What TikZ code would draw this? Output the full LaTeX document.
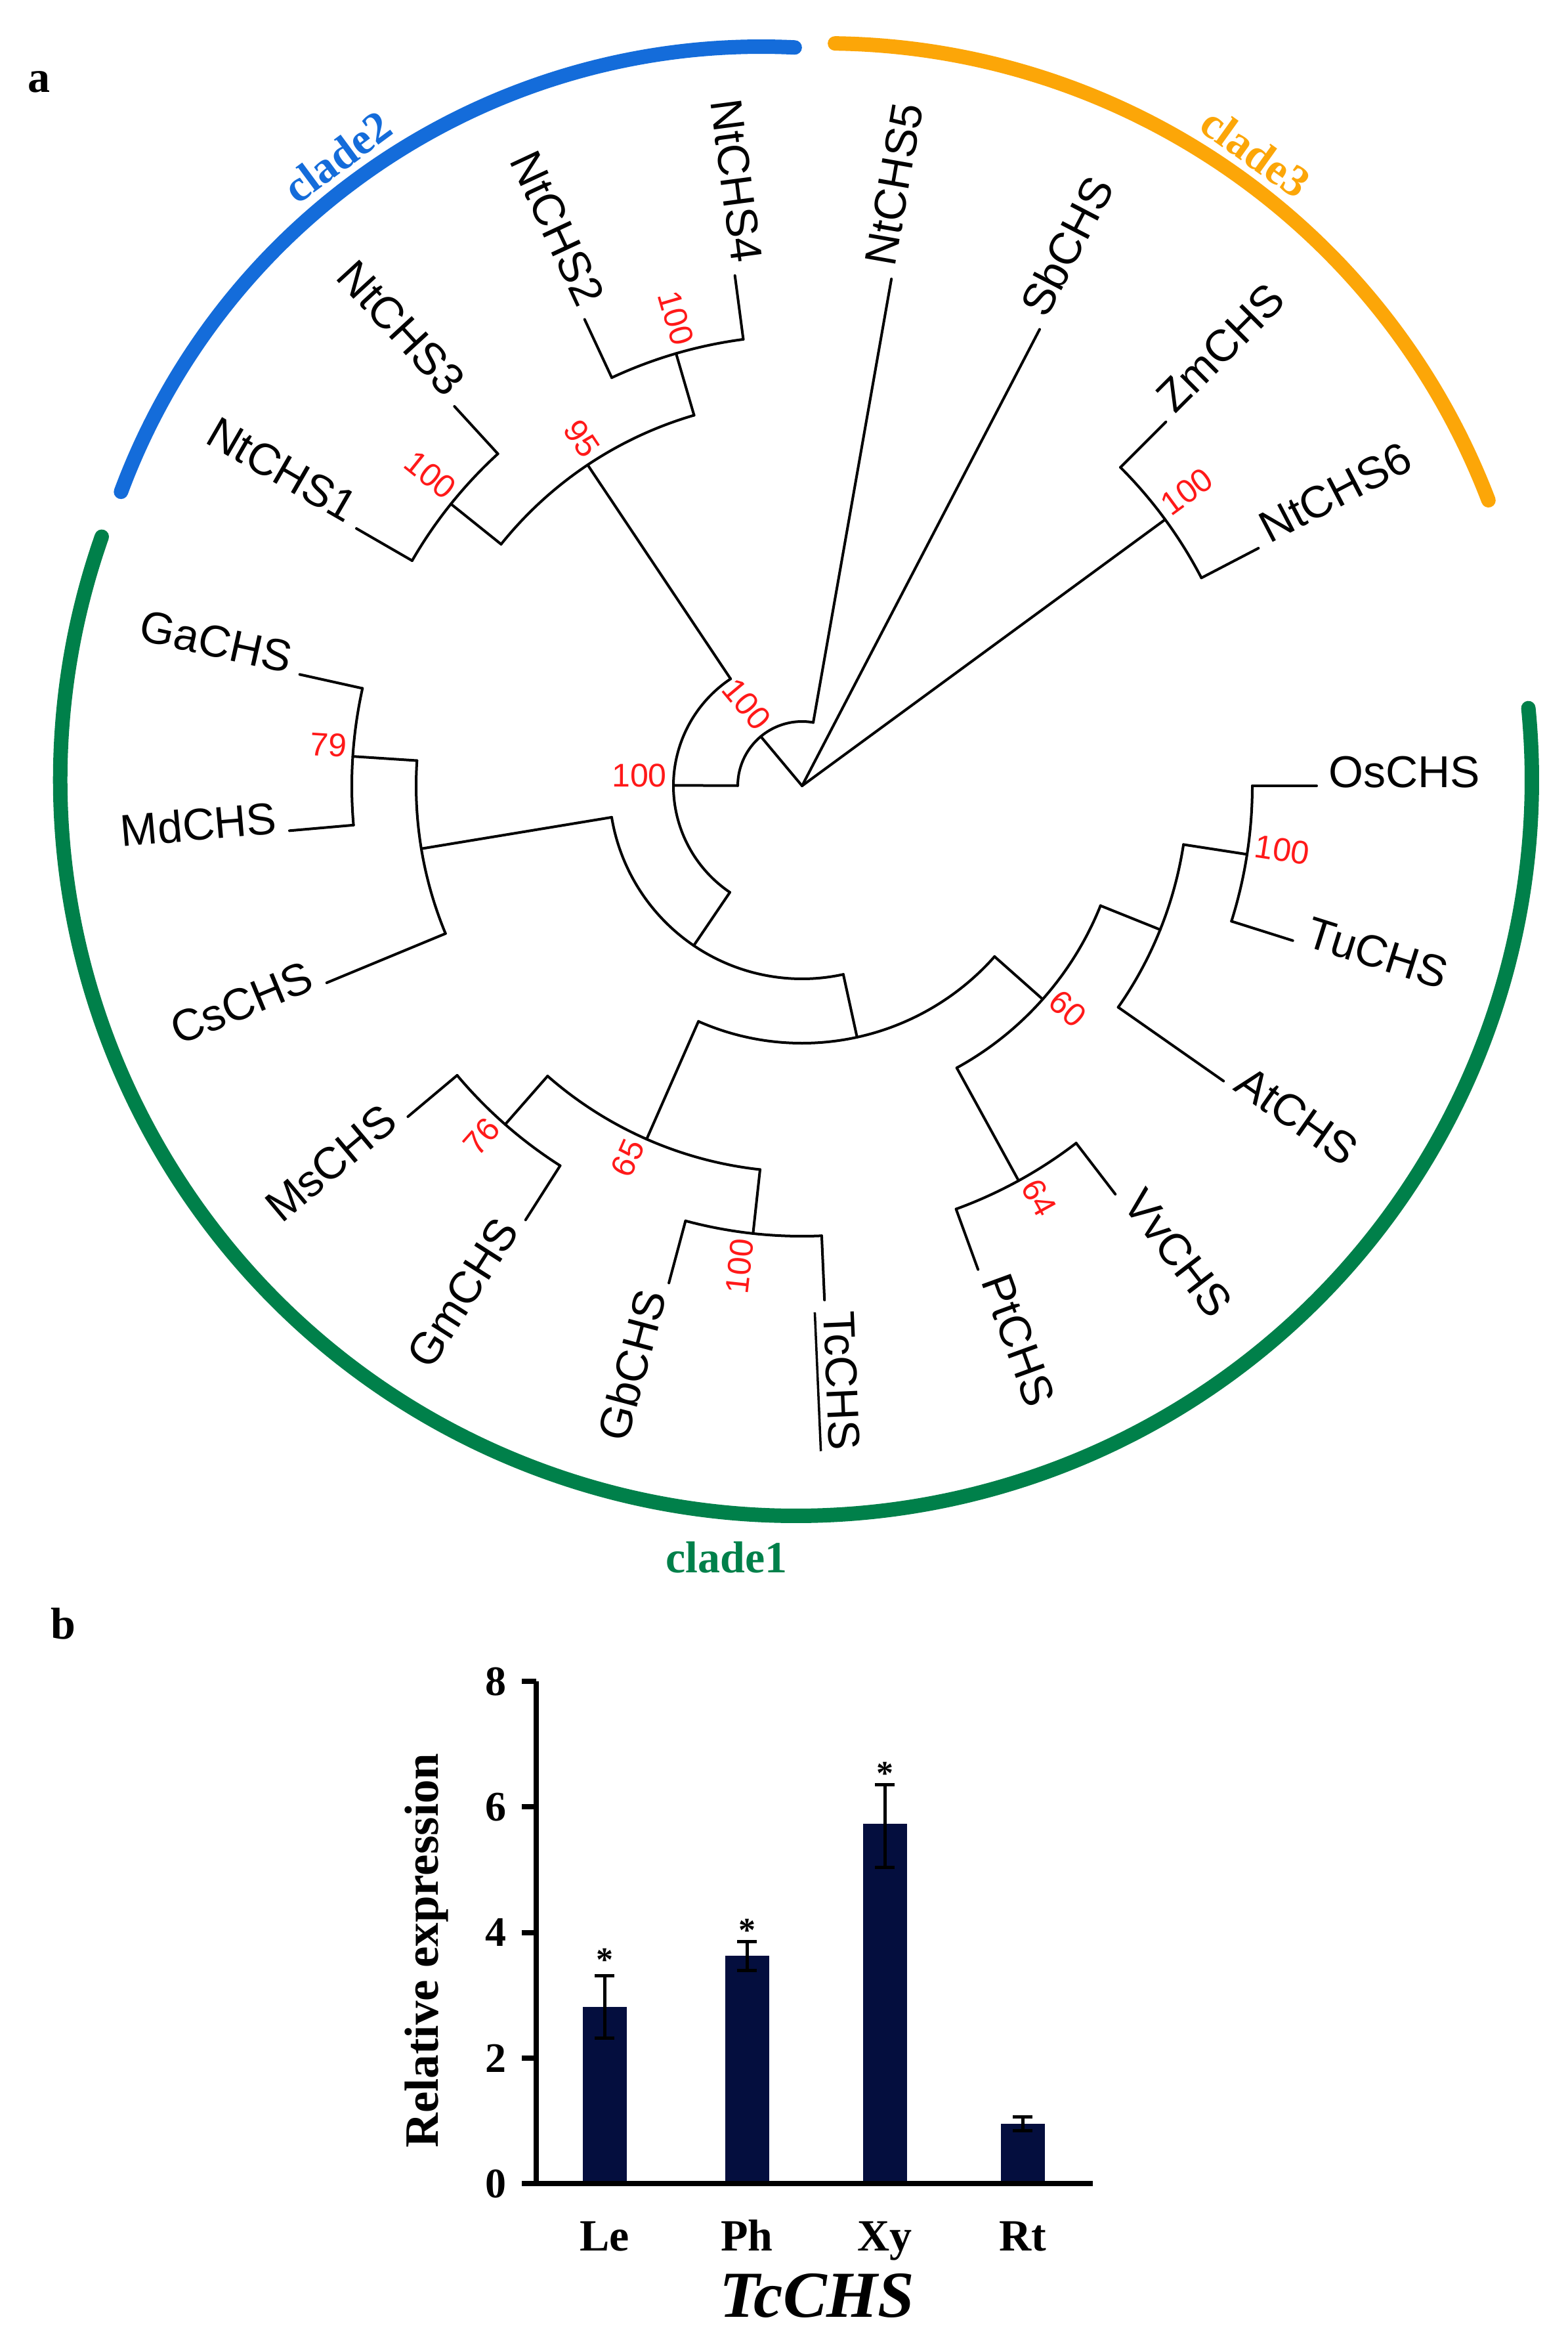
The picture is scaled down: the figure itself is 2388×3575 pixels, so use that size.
\documentclass[tikz,border=0pt]{standalone}
\usepackage{fontspec}
\setmainfont{Liberation Serif}
\setsansfont{Liberation Sans}
\definecolor{cladeblue}{RGB}{20,108,218}
\definecolor{cladeorange}{RGB}{252,166,8}
\definecolor{cladegreen}{RGB}{0,128,74}
\definecolor{bsred}{RGB}{255,25,25}
\definecolor{barnavy}{RGB}{4,14,62}
\newcommand\leaffont{\sffamily\fontsize{68}{72}\selectfont}
\newcommand\bsfont{\sffamily\fontsize{50}{54}\selectfont}
\newcommand\serbig{\rmfamily\bfseries\fontsize{68}{72}\selectfont}
\newcommand\ulbox[1]{\leavevmode\vtop{\hbox{#1}\kern 0.16em\hrule height 3.5pt}}
% tree helpers
\newcommand\tstem[4]{\coordinate (#1-b) at (#2:#3); \coordinate (#1) at (#2:#4); \draw[br] (#1-b) -- (#1);}
\newcommand\tarc[4]{\coordinate (#1-s) at (#3:#2); \draw[br] (#1-s) arc[start angle=#3, end angle=#4, radius=#2];}
\newcommand\lfR[3]{\node[leafR,rotate=#2] (#1-lab) at (#2:802) {#3};}
\newcommand\lfL[3]{\node[leafL,rotate=#2-180] (#1-lab) at (#2:802) {#3};}
\newcommand\bsR[4]{\node[bsR,rotate=#2] (#1-bs) at (#2:#3) {#4};}
\newcommand\bsL[4]{\node[bsL,rotate=#2-180] (#1-bs) at (#2:#3) {#4};}
\begin{document}
\begin{tikzpicture}[x=1pt,y=1pt,
  br/.style={line width=4pt, line cap=round, line join=round, black},
  leafR/.style={font=\leaffont, anchor=mid west, inner sep=0pt},
  leafL/.style={font=\leaffont, anchor=mid east, inner sep=0pt},
  bsR/.style={font=\bsfont, text=bsred, anchor=mid west, inner sep=0pt},
  bsL/.style={font=\bsfont, text=bsred, anchor=mid east, inner sep=0pt},
  cladearc/.style={line width=22pt, line cap=round},
  cladelbl/.style={font=\serbig, inner sep=0pt},
  panel/.style={font=\serbig, inner sep=0pt, anchor=base},
  axisline/.style={line width=8pt, line cap=butt},
  errb/.style={line width=5pt, black},
  ticklbl/.style={font=\rmfamily\bfseries\fontsize{64}{68}\selectfont, inner sep=0pt, anchor=east},
  catlbl/.style={font=\rmfamily\bfseries\fontsize{68}{72}\selectfont, inner sep=0pt, anchor=base},
  star/.style={font=\rmfamily\bfseries\fontsize{52}{56}\selectfont, inner sep=0pt, anchor=base}
]
\useasboundingbox (0,0) rectangle (2388,-3575);
\fill[white] (0,0) rectangle (2388,-3575);

% panel labels
\node[panel] (pa) at (59,-141) {a};
\node[panel] (pb) at (96,-2496) {b};

% clade arcs
\begin{scope}[shift={(1160,-1112)}]
  \coordinate (c2s) at (87.2:1041);
  \draw[cladearc, cladeblue] (c2s) arc[start angle=87.2, end angle=159.6, radius=1041];
\end{scope}
\begin{scope}[shift={(1257,-1148)}]
  \coordinate (c3s) at (20.9:1082);
  \draw[cladearc, cladeorange] (c3s) arc[start angle=20.9, end angle=89.2, radius=1082];
\end{scope}
\begin{scope}[shift={(1213,-1188)}]
  \coordinate (c1s) at (160.7:1121);
  \draw[cladearc, cladegreen] (c1s) arc[start angle=160.7, end angle=365.6, radius=1121];
\end{scope}
\node[cladelbl, text=cladeblue, rotate=36.5] (clade2) at (514,-239) {clade2};
\node[cladelbl, text=cladeorange, rotate=-35.6] (clade3) at (1913,-232) {clade3};
\node[cladelbl, text=cladegreen] (clade1) at (1107,-2372) {clade1};

% tree
\begin{scope}[shift={(1222,-1197)}]
\coordinate (R) at (0,0);
\tstem{A}{129.902}{0}{98}
\tarc{A}{98}{80}{179.805}
\tstem{Nt5}{80}{98}{784}
\tstem{B}{179.805}{98}{196}
\tarc{B}{196}{123.75}{235.859}
\tstem{D}{123.75}{196}{588}
\tarc{D}{588}{106.25}{141.25}
\tstem{F}{106.25}{588}{686}
\tarc{F}{686}{97.5}{115}
\tstem{Nt4}{97.5}{686}{784}
\tstem{Nt2}{115}{686}{784}
\tstem{E}{141.25}{588}{686}
\tarc{E}{686}{132.5}{150}
\tstem{Nt3}{132.5}{686}{784}
\tstem{Nt1}{150}{686}{784}
\tstem{G}{235.859}{196}{294}
\tarc{G}{294}{189.375}{282.344}
\tstem{H}{189.375}{294}{588}
\tarc{H}{588}{176.25}{202.5}
\tstem{K}{176.25}{588}{686}
\tarc{K}{686}{167.5}{185}
\tstem{Ga}{167.5}{686}{784}
\tstem{Md}{185}{686}{784}
\tstem{Cs}{202.5}{588}{784}
\tstem{J}{282.344}{294}{392}
\tarc{J}{392}{246.25}{318.438}
\tstem{L}{246.25}{392}{588}
\tarc{L}{588}{228.75}{263.75}
\tstem{N}{228.75}{588}{686}
\tarc{N}{686}{220}{237.5}
\tstem{Ms}{220}{686}{784}
\tstem{Gm}{237.5}{686}{784}
\tstem{O}{263.75}{588}{686}
\tarc{O}{686}{255}{272.5}
\tstem{Gb}{255}{686}{784}
\tstem{Tc}{272.5}{686}{784}
\tstem{M}{318.438}{392}{490}
\tarc{M}{490}{298.75}{338.125}
\tstem{P}{298.75}{490}{686}
\tarc{P}{686}{290}{307.5}
\tstem{Pt}{290}{686}{784}
\tstem{Vv}{307.5}{686}{784}
\tstem{Q}{338.125}{490}{588}
\tarc{Q}{588}{325}{351.25}
\tstem{At}{325}{588}{784}
\tstem{S}{351.25}{588}{686}
\tarc{S}{686}{342.5}{360}
\tstem{Tu}{342.5}{686}{784}
\tstem{Os}{360}{686}{784}
\tstem{Sb}{62.5}{0}{784}
\tstem{I}{36.25}{0}{686}
\tarc{I}{686}{27.5}{45}
\tstem{Nt6}{27.5}{686}{784}
\tstem{Zm}{45}{686}{784}

% leaf labels
\lfR{Os}{0}{OsCHS}
\lfR{Tu}{342.5}{TuCHS}
\lfR{At}{325}{AtCHS}
\lfR{Vv}{307.5}{VvCHS}
\lfR{Pt}{290}{PtCHS}
\lfR{Tc}{272.5}{\ulbox{TcCHS}}
\lfR{Nt5}{80}{NtCHS5}
\lfR{Sb}{62.5}{SbCHS}
\lfR{Zm}{45}{ZmCHS}
\lfR{Nt6}{27.5}{NtCHS6}
\lfL{Nt4}{97.5}{NtCHS4}
\lfL{Nt2}{115}{NtCHS2}
\lfL{Nt3}{132.5}{NtCHS3}
\lfL{Nt1}{150}{NtCHS1}
\lfL{Ga}{167.5}{GaCHS}
\lfL{Md}{185}{MdCHS}
\lfL{Cs}{202.5}{CsCHS}
\lfL{Ms}{220}{MsCHS}
\lfL{Gm}{237.5}{GmCHS}
\lfL{Gb}{255}{GbCHS}

% bootstrap values
\bsR{I}{36.25}{696}{100}
\bsR{P}{298.75}{696}{64}
\bsR{M}{318.438}{500}{60}
\bsR{S}{351.25}{696}{100}
\bsL{A}{129.902}{108}{100}
\bsL{B}{179.805}{206}{100}
\bsL{D}{123.75}{598}{95}
\bsL{F}{106.25}{696}{100}
\bsL{E}{141.25}{696}{100}
\bsL{K}{176.25}{696}{79}
\bsL{N}{228.75}{696}{76}
\bsL{L}{246.25}{598}{65}
\bsL{O}{263.75}{696}{100}
\end{scope}

% bar chart
\begin{scope}[shift={(817,-3326)}, y=95.6pt]
  \fill[barnavy] (70.5,0) rectangle (137.5,2.81);
  \fill[barnavy] (287.5,0) rectangle (354.5,3.63);
  \fill[barnavy] (497.5,0) rectangle (564.5,5.73);
  \fill[barnavy] (707.5,0) rectangle (774.5,0.95);
  \draw[axisline] (0,8) -- (0,0) -- (848,0);
  \draw[axisline] (-22,0) -- (0,0);
  \foreach \v in {2,4,6,8} { \draw[axisline] (-22,\v) -- (0,\v); }
  \foreach \v in {0,2,4,6,8} { \node[ticklbl] (t\v) at (-45,\v) {\v}; }
  % error bars
  \draw[errb] (104,2.32) -- (104,3.31) (89,3.31) -- (119,3.31) (89,2.32) -- (119,2.32);
  \draw[errb] (321,3.39) -- (321,3.85) (306,3.85) -- (336,3.85) (306,3.39) -- (336,3.39);
  \draw[errb] (531,5.04) -- (531,6.35) (516,6.35) -- (546,6.35) (516,5.04) -- (546,5.04);
  \draw[errb] (741,0.84) -- (741,1.06) (726,1.06) -- (756,1.06) (726,0.84) -- (756,0.84);
  \node[star] (s1) at (104,3.38) {*};
  \node[star] (s2) at (321,3.85) {*};
  \node[star] (s3) at (531,6.36) {*};
  \node[catlbl] (Le) at (104,-1.07) {Le};
  \node[catlbl] (Ph) at (321,-1.07) {Ph};
  \node[catlbl] (Xy) at (531,-1.07) {Xy};
  \node[catlbl] (Rt) at (741,-1.07) {Rt};
\end{scope}
\node[font=\rmfamily\bfseries\fontsize{73}{78}\selectfont, rotate=90, inner sep=0pt] (ylab) at (650,-2971) {Relative expression};
\node[font=\rmfamily\bfseries\itshape\fontsize{100}{110}\selectfont, inner sep=0pt, anchor=base] (gene) at (1245,-3529) {TcCHS};
\end{tikzpicture}
\end{document}
